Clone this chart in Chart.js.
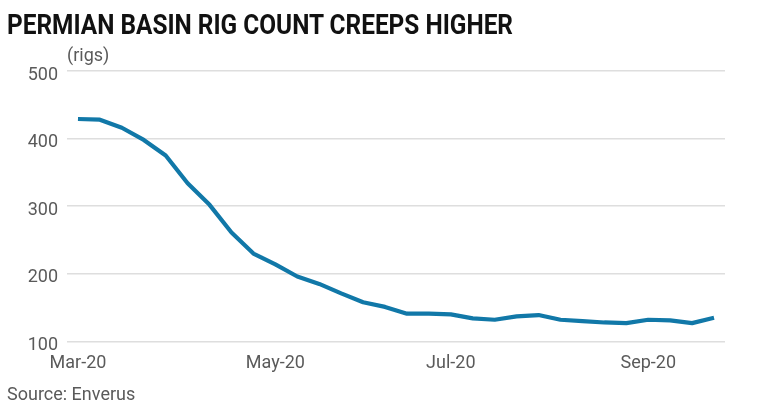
<!DOCTYPE html>
<html>
<head>
<meta charset="utf-8">
<script src="https://cdn.jsdelivr.net/npm/chart.js@4.4.1/dist/chart.umd.min.js"></script>
<style>
  html, body { margin: 0; padding: 0; background: #ffffff; }
  #wrap { position: relative; width: 763px; height: 418px; overflow: hidden; background: #fff; }
  #c { position: absolute; left: 0; top: 0; }
  #title { position: absolute; left: 7px; top: 11px; font-family: Roboto, sans-serif; font-weight: 700;
           font-size: 28px; line-height: 28px; color: #111; white-space: nowrap; transform-origin: 0 0; }
  #unit { position: absolute; left: 67px; top: 44px; font-family: Roboto, sans-serif; font-size: 18px;
          line-height: 22px; color: #5a5a5a; }
  #source { position: absolute; left: 7px; top: 383px; font-family: Roboto, sans-serif; font-size: 18px;
            line-height: 22px; color: #5a5a5a; white-space: nowrap; }
</style>
</head>
<body>
<div id="wrap">
  <canvas id="c" width="763" height="418"></canvas>
  <div id="title">PERMIAN BASIN RIG COUNT CREEPS HIGHER</div>
  <div id="unit">(rigs)</div>
  <div id="source">Source: Enverus</div>
</div>
<script>
const weeks = [
  "2020-03-06","2020-03-13","2020-03-20","2020-03-27","2020-04-03","2020-04-10",
  "2020-04-17","2020-04-24","2020-05-01","2020-05-08","2020-05-15","2020-05-22",
  "2020-05-29","2020-06-05","2020-06-12","2020-06-19","2020-06-26","2020-07-03",
  "2020-07-10","2020-07-17","2020-07-24","2020-07-31","2020-08-07","2020-08-14",
  "2020-08-21","2020-08-28","2020-09-04","2020-09-11","2020-09-18","2020-09-25"
];
const rigCount = [
  429, 428, 416, 398, 375, 334,
  302, 261, 230, 214, 196, 185,
  171, 158, 151, 141, 141, 140,
  134, 132, 137, 139, 132, 130,
  128, 127, 132, 131, 127, 135
];
// x-axis tick labels and the week index they sit on
const xTickIndex = [0, 9, 17, 26];
const xTickText  = ["Mar-20", "May-20", "Jul-20", "Sep-20"];
// y-axis ticks
const yMin = 100, yMax = 500, yStep = 100;

// fit the title width to the reference
(function () {
  const t = document.getElementById('title');
  const w = t.getBoundingClientRect().width;
  t.style.transform = 'scaleX(' + (506 / w) + ')';
})();

const tickColor = '#5a5a5a';
new Chart(document.getElementById('c'), {
  type: 'line',
  data: {
    labels: weeks,
    datasets: [{
      data: rigCount,
      borderColor: '#1178a8',
      borderWidth: 4.2,
      pointRadius: 0,
      pointHoverRadius: 0,
      tension: 0,
      fill: false,
      borderJoinStyle: 'round',
      borderCapStyle: 'butt'
    }]
  },
  options: {
    responsive: false,
    animation: false,
    devicePixelRatio: 1,
    layout: { padding: { left: 27, right: 38, top: 71, bottom: 33 } },
    plugins: { legend: { display: false }, tooltip: { enabled: false }, title: { display: false } },
    scales: {
      x: {
        type: 'category',
        offset: true,
        grid: { display: false, drawTicks: false },
        border: { display: false },
        ticks: {
          autoSkip: false,
          maxRotation: 0,
          minRotation: 0,
          padding: 11,
          color: tickColor,
          font: { family: 'Roboto', size: 18 },
          callback: function (value, index) {
            const k = xTickIndex.indexOf(index);
            return k >= 0 ? xTickText[k] : '';
          }
        }
      },
      y: {
        min: yMin,
        max: yMax,
        afterFit: function (scale) { scale.width = 40; },
        grid: { color: '#dedede', lineWidth: 1.6, drawTicks: false },
        border: { display: false },
        ticks: {
          stepSize: yStep,
          padding: 9,
          labelOffset: 4,
          color: tickColor,
          font: { family: 'Roboto', size: 18 }
        }
      }
    }
  }
});
</script>
</body>
</html>
